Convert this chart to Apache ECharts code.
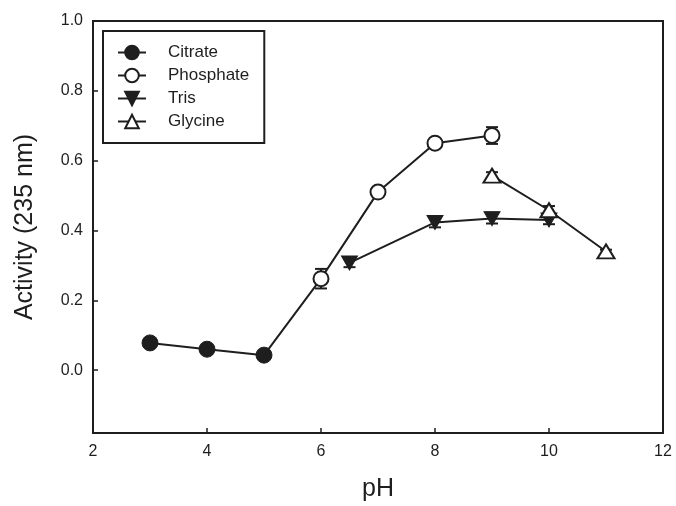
<!DOCTYPE html>
<html>
<head>
<meta charset="utf-8">
<script src="https://cdn.jsdelivr.net/npm/echarts@6/dist/echarts.min.js"></script>
<style>
  html, body { margin: 0; padding: 0; background: #fff; }
  #chart { width: 676px; height: 506px; }
</style>
</head>
<body>
<div id="chart"></div>
<script>
// data
const citrateX = [3, 4, 5, 6]
const citrateY = [0.078, 0.06, 0.043, 0.262]
const phosphateX = [6, 7, 8, 9]
const phosphateY = [0.262, 0.51, 0.65, 0.672]
const phosphateErr = [0.028, 0.008, 0.008, 0.024]
const trisX = [6.5, 8, 9, 10]
const trisY = [0.307, 0.423, 0.434, 0.43]
const trisErr = [0.012, 0.014, 0.014, 0.012]
const glycineX = [9, 10, 11]
const glycineY = [0.557, 0.458, 0.34]
const glycineErr = [0.01, 0.012, 0.005]
const yTicks = [0, 0.2, 0.4, 0.6, 0.8, 1.0]

const ink = '#1e1e1e'
const font = 'Liberation Sans, Arial, sans-serif'

function pts(xs, ys) {
  return xs.map((x, i) => [x, ys[i]])
}

// error bars drawn through the axes' coord system
function errSeries(xs, ys, errs) {
  return {
    type: 'custom',
    silent: true,
    z: 1,
    data: xs.map((x, i) => [x, ys[i] - errs[i], ys[i] + errs[i]]),
    renderItem(params, api) {
      const lo = api.coord([api.value(0), api.value(1)])
      const hi = api.coord([api.value(0), api.value(2)])
      const w = 6
      const st = { stroke: ink, lineWidth: 2 }
      return {
        type: 'group',
        children: [
          { type: 'line', shape: { x1: lo[0], y1: lo[1], x2: hi[0], y2: hi[1] }, style: st },
          { type: 'line', shape: { x1: lo[0] - w, y1: lo[1], x2: lo[0] + w, y2: lo[1] }, style: st },
          { type: 'line', shape: { x1: hi[0] - w, y1: hi[1], x2: hi[0] + w, y2: hi[1] }, style: st }
        ]
      }
    }
  }
}

const chart = echarts.init(document.getElementById('chart'))

// citrate: last point only carries the line to pH 6
const citrateData = pts(citrateX, citrateY).map((p, i) =>
  i === citrateX.length - 1 ? { value: p, symbol: 'none' } : p)

chart.setOption({
  animation: false,
  textStyle: { fontFamily: font },
  grid: {
    left: 93, right: 13, top: 21, bottom: 73,
    outerBoundsMode: 'none',
    show: true, borderColor: ink, borderWidth: 2
  },
  legend: {
    orient: 'vertical',
    left: 103, top: 31,
    padding: [13, 15, 13, 14],
    itemWidth: 28, itemHeight: 17, itemGap: 6,
    borderColor: ink, borderWidth: 2,
    textStyle: { fontSize: 17, color: ink, padding: [0, 0, 0, 17], fontFamily: font },
    data: ['Citrate', 'Phosphate', 'Tris', 'Glycine']
  },
  xAxis: {
    type: 'value',
    min: 2, max: 12, interval: 2,
    name: 'pH', nameLocation: 'middle', nameGap: 44,
    nameTextStyle: { fontSize: 25, color: ink, fontFamily: font },
    axisLine: { onZero: false, lineStyle: { color: ink, width: 2 } },
    axisTick: { inside: true, length: 5, lineStyle: { color: ink, width: 1.5 } },
    axisLabel: { fontSize: 16, color: ink, margin: 11, fontFamily: font },
    splitLine: { show: false }
  },
  yAxis: {
    type: 'value',
    min: -0.18, max: 1.0,
    name: 'Activity (235 nm)', nameLocation: 'middle', nameGap: 55,
    nameTextStyle: { fontSize: 25, color: ink, fontFamily: font },
    axisLine: { onZero: false, lineStyle: { color: ink, width: 2 } },
    axisTick: { inside: true, length: 5, customValues: yTicks, lineStyle: { color: ink, width: 1.5 } },
    axisLabel: {
      fontSize: 16, color: ink, margin: 10, fontFamily: font,
      customValues: yTicks,
      formatter: v => v.toFixed(1)
    },
    splitLine: { show: false }
  },
  series: [
    errSeries(phosphateX, phosphateY, phosphateErr),
    errSeries(trisX, trisY, trisErr),
    errSeries(glycineX, glycineY, glycineErr),
    {
      name: 'Citrate', type: 'line', z: 2,
      data: citrateData,
      symbol: 'circle', symbolSize: 16,
      lineStyle: { color: ink, width: 2 },
      itemStyle: { color: ink, borderColor: ink, borderWidth: 1 }
    },
    {
      name: 'Phosphate', type: 'line', z: 3,
      data: pts(phosphateX, phosphateY),
      symbol: 'circle', symbolSize: 15,
      lineStyle: { color: ink, width: 2 },
      itemStyle: { color: '#fff', borderColor: ink, borderWidth: 2 }
    },
    {
      name: 'Tris', type: 'line', z: 4,
      data: pts(trisX, trisY),
      symbol: 'triangle', symbolRotate: 180, symbolSize: [16, 14],
      lineStyle: { color: ink, width: 2 },
      itemStyle: { color: ink, borderColor: ink, borderWidth: 1 }
    },
    {
      name: 'Glycine', type: 'line', z: 5,
      data: pts(glycineX, glycineY),
      symbol: 'triangle', symbolSize: [17, 14],
      lineStyle: { color: ink, width: 2 },
      itemStyle: { color: '#fff', borderColor: ink, borderWidth: 2 }
    }
  ]
})
</script>
</body>
</html>
